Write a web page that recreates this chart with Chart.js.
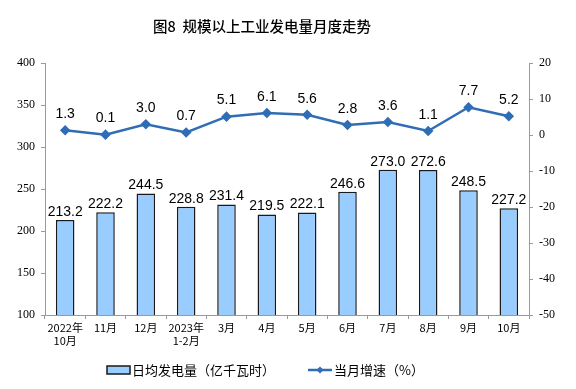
<!DOCTYPE html>
<html>
<head>
<meta charset="utf-8">
<script src="https://cdn.jsdelivr.net/npm/chart.js@4"></script>
<style>
  html, body { margin: 0; padding: 0; background: #fff; }
  #wrap { width: 576px; height: 389px; position: relative; }
</style>
</head>
<body>
<div id="wrap"><canvas id="myChart" width="576" height="389"></canvas></div>
<script>
const categories = [['2022年', '10月'], '11月', '12月', ['2023年', '1-2月'], '3月', '4月', '5月', '6月', '7月', '8月', '9月', '10月'];
const dailyOutput = [213.2, 222.2, 244.5, 228.8, 231.4, 219.5, 222.1, 246.6, 273.0, 272.6, 248.5, 227.2];
const monthlyGrowth = [1.3, 0.1, 3.0, 0.7, 5.1, 6.1, 5.6, 2.8, 3.6, 1.1, 7.7, 5.2];
const leftTicks = [100, 150, 200, 250, 300, 350, 400];
const rightTicks = [-50, -40, -30, -20, -10, 0, 10, 20];
const seriesNames = ['日均发电量（亿千瓦时）', '当月增速（%）'];
const chartTitle = '图8  规模以上工业发电量月度走势';

const barFill = '#99CCFF';
const barEdge = '#1a1a1a';
const lineBlue = '#2F6DB5';
const axisGrey = '#9a9a9a';

const extras = {
    id: 'extras',
    afterDatasetsDraw(chart) {
        const c = chart.ctx;
        c.save();
        c.fillStyle = '#000';
        c.font = '14px "Liberation Sans", Arial, sans-serif';
        c.textAlign = 'center';
        c.textBaseline = 'bottom';
        // dataset 1 = bars, dataset 0 = line
        chart.getDatasetMeta(1).data.forEach((el, i) => {
            c.fillText(dailyOutput[i].toFixed(1), el.x, el.y - 1);
        });
        chart.getDatasetMeta(0).data.forEach((el, i) => {
            c.fillText(monthlyGrowth[i].toFixed(1), el.x, el.y - 9);
        });
        c.restore();
    },
    afterDraw(chart) {
        const c = chart.ctx;
        c.save();
        // title
        c.fillStyle = '#000';
        c.font = '500 14.5px "Noto Sans CJK SC", sans-serif';
        c.textAlign = 'center';
        c.textBaseline = 'middle';
        c.fillText(chartTitle, 262, 26);
        // legend
        const ly = 370;
        c.fillStyle = barFill;
        c.fillRect(107, ly - 4, 23, 8);
        c.strokeStyle = barEdge;
        c.lineWidth = 1.5;
        c.strokeRect(107, ly - 4, 23, 8);
        c.strokeStyle = lineBlue;
        c.lineWidth = 2.5;
        c.beginPath();
        c.moveTo(308, ly);
        c.lineTo(332, ly);
        c.stroke();
        c.fillStyle = lineBlue;
        c.beginPath();
        c.moveTo(320, ly - 3.5);
        c.lineTo(323.5, ly);
        c.lineTo(320, ly + 3.5);
        c.lineTo(316.5, ly);
        c.closePath();
        c.fill();
        c.fillStyle = '#000';
        c.font = '13px "Noto Sans CJK SC", sans-serif';
        c.textAlign = 'left';
        c.fillText(seriesNames[0], 132, ly);
        c.fillText(seriesNames[1], 334, ly);
        c.restore();
    }
};

const ctx = document.getElementById('myChart').getContext('2d');

const mixedChart = new Chart(ctx, {
    data: {
        labels: categories,
        datasets: [{
            type: 'line',
            label: seriesNames[1],
            data: monthlyGrowth,
            yAxisID: 'y1',
            borderColor: lineBlue,
            backgroundColor: lineBlue,
            borderWidth: 2.5,
            pointStyle: 'rectRot',
            pointRadius: 3.5,
            tension: 0,
            order: 0
        }, {
            type: 'bar',
            label: seriesNames[0],
            data: dailyOutput,
            yAxisID: 'y',
            backgroundColor: barFill,
            borderColor: barEdge,
            borderWidth: 1.5,
            barPercentage: 0.46,
            categoryPercentage: 1,
            order: 1
        }]
    },
    options: {
        responsive: false,
        animation: false,
        layout: { padding: { top: 63, bottom: 36, left: 0, right: 0 } },
        plugins: {
            legend: { display: false },
            title: { display: false },
            tooltip: { enabled: false }
        },
        scales: {
            x: {
                offset: true,
                grid: { display: true, drawOnChartArea: false, offset: true, color: axisGrey, tickLength: 4 },
                border: { color: axisGrey },
                ticks: {
                    color: '#000',
                    font: { family: '"Noto Sans CJK SC", sans-serif', size: 11 },
                    maxRotation: 0,
                    autoSkip: false,
                    padding: 2
                },
                afterFit(s) { s.height = 38; }
            },
            y: {
                position: 'left',
                min: 100,
                max: 400,
                afterBuildTicks(s) { s.ticks = leftTicks.map(v => ({ value: v })); },
                grid: { drawOnChartArea: false, color: axisGrey, tickLength: 4 },
                border: { color: axisGrey },
                ticks: {
                    color: '#000',
                    font: { family: '"Liberation Serif", serif', size: 12 },
                    padding: 6
                },
                afterFit(s) { s.width = 45; }
            },
            y1: {
                position: 'right',
                min: -50,
                max: 20,
                afterBuildTicks(s) { s.ticks = rightTicks.map(v => ({ value: v })); },
                grid: { drawOnChartArea: false, color: axisGrey, tickLength: 4 },
                border: { color: axisGrey },
                ticks: {
                    color: '#000',
                    font: { family: '"Liberation Serif", serif', size: 12 },
                    padding: 6
                },
                afterFit(s) { s.width = 47; }
            }
        }
    },
    plugins: [extras]
});
</script>
</body>
</html>
